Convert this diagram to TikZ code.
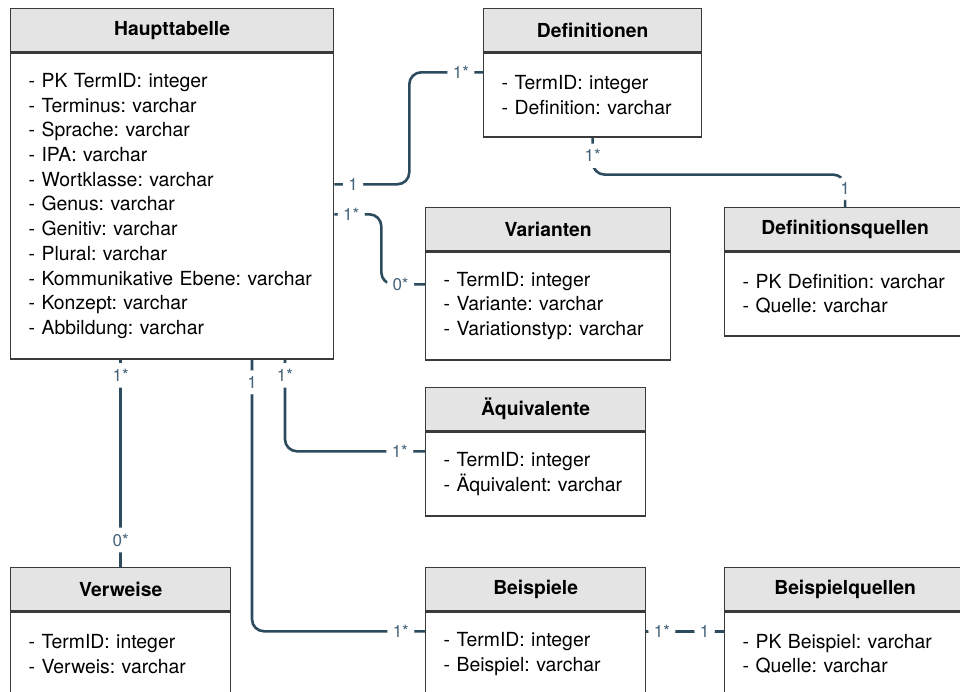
\documentclass[tikz,border=0pt]{standalone}
\usepackage{fontspec}
\setmainfont{TeX Gyre Heros}
\usetikzlibrary{positioning,calc}
\frenchspacing

\definecolor{linkblue}{HTML}{2D4B5F}
\definecolor{cardtext}{HTML}{46647A}
\definecolor{headgray}{HTML}{E4E4E4}
\definecolor{framegray}{HTML}{3A3A3A}

\tikzset{
  tablehead/.style={draw=framegray, line width=1.3pt, fill=headgray, anchor=north west,
    inner sep=0pt, minimum height=43pt, font=\fontsize{19.3}{22}\selectfont\bfseries},
  tablebody/.style={draw=framegray, line width=1.3pt, fill=white, inner xsep=18pt,
    inner ysep=0pt, align=left, font=\fontsize{19.4}{24.7}\selectfont},
  relline/.style={draw=linkblue, line width=2.6pt, rounded corners=12pt},
  card/.style={fill=white, text=cardtext, inner xsep=5.5pt, inner ysep=6pt,
    font=\fontsize{17}{17}\selectfont},
}

\newcommand{\ertable}[6]{%
  \node[tablehead, minimum width=#3pt] at (#1) (#2h) {#5};
  \node[tablebody, minimum width=#3pt, text width=#3pt-36pt, minimum height=#4pt,
    below=0pt of #2h] (#2b) {#6};}

\begin{document}
\begin{tikzpicture}[x=1pt, y=-1pt]
\useasboundingbox (0,0) rectangle (960,691);
\clip (0,0) rectangle (960,691);

\ertable{10,8}{haupt}{323}{306}{Haupttabelle}{- PK TermID: integer\\- Terminus: varchar\\- Sprache: varchar\\- IPA: varchar\\- Wortklasse: varchar\\- Genus: varchar\\- Genitiv: varchar\\- Plural: varchar\\- Kommunikative Ebene: varchar\\- Konzept: varchar\\- Abbildung: varchar}
\ertable{483,8}{def}{218}{84}{Definitionen}{- TermID: integer\\- Definition: varchar}
\ertable{425,207}{var}{245}{108}{Varianten}{- TermID: integer\\- Variante: varchar\\- Variationstyp: varchar}
\ertable{724,207}{dq}{241}{84}{Definitionsquellen}{- PK Definition: varchar\\- Quelle: varchar}
\ertable{425,387}{aeq}{220}{84}{Äquivalente}{- TermID: integer\\- Äquivalent: varchar}
\ertable{10,567}{verw}{220}{84}{Verweise}{- TermID: integer\\- Verweis: varchar}
\ertable{425,567}{bei}{220}{84}{Beispiele}{- TermID: integer\\- Beispiel: varchar}
\ertable{724,567}{bq}{241}{84}{Beispielquellen}{- PK Beispiel: varchar\\- Quelle: varchar}

\draw[relline] ($(hauptb.north east)+(0,132)$) -- node[card, pos=.25]{1} ++(75,0)
  |- node[card, pos=.85]{1*} ($(defb.north west)+(0,20)$);
\draw[relline] ($(hauptb.north east)+(0,162)$) -- node[card, pos=.36]{1*} ++(47,0)
  |- node[card, pos=.72]{0*} ($(varb.north west)+(0,33)$);
\draw[relline] (defb.south) -- node[card, pos=.49]{1*} ++(0,37)
  -| node[card, pos=.71]{1} (dqh.north);
\draw[relline] (hauptb.south -| verwh.north) -- node[card, pos=.076]{1*} node[card, pos=.87]{0*} (verwh.north);
\draw[relline] ($(hauptb.south west)+(275,0)$) |- node[card, pos=.086]{1*} node[card, pos=.91]{1*} ($(aeqb.north west)+(0,20)$);
\draw[relline] ($(hauptb.south west)+(242,0)$) |- node[card, pos=.042]{1} node[card, pos=.93]{1*} ($(beib.north west)+(0,20)$);
\draw[relline] ($(beib.north east)+(0,20)$) -- node[card, pos=.2]{1*} node[card, pos=.75]{1} ($(bqb.north west)+(0,20)$);

\end{tikzpicture}
\end{document}
